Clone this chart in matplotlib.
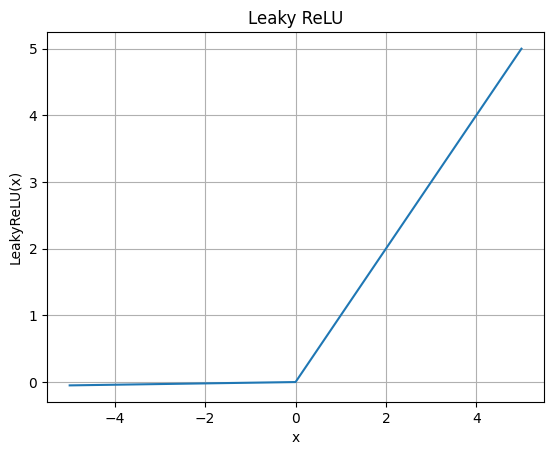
import matplotlib
matplotlib.use("Agg")
import matplotlib.pyplot as plt

# breakpoints of the leaky relu curve (slope 0.01 on the left)
x_vals = [-5.0, 0.0, 5.0]
y_vals = [-0.05, 0.0, 5.0]

fig = plt.figure(figsize=(5.54, 4.55), dpi=100)
ax = fig.add_axes([0.085, 0.116, 0.897, 0.814])
ax.plot(x_vals, y_vals)
ax.set_title('Leaky ReLU')
ax.set_xlabel('x')
ax.set_ylabel('LeakyReLU(x)')
ax.grid(True)
fig.savefig('out.png', dpi=100)
